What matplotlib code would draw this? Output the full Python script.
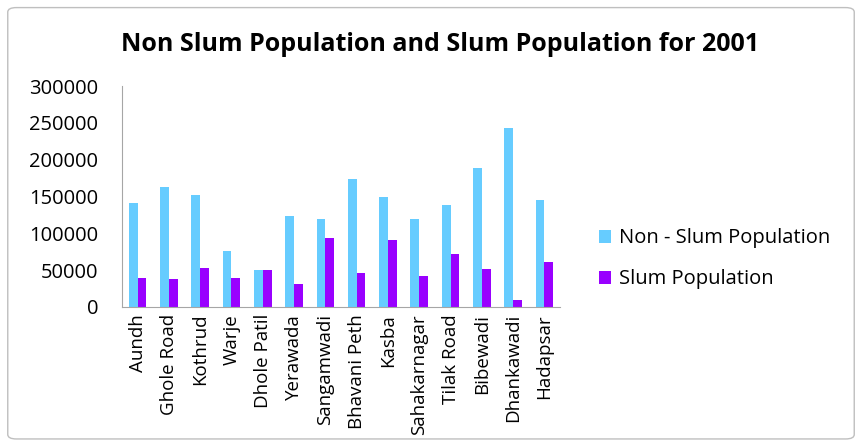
from matplotlib import pyplot as plt
from matplotlib.patches import FancyBboxPatch
import numpy as np

areas = ['Aundh', 'Ghole Road', 'Kothrud', 'Warje', 'Dhole Patil', 'Yerawada',
         'Sangamwadi', 'Bhavani Peth', 'Kasba', 'Sahakarnagar', 'Tilak Road',
         'Bibewadi', 'Dhankawadi', 'Hadapsar']
non_slum = [141000, 163500, 152000, 76500, 50000, 123000, 119500, 173500,
            149500, 120000, 138000, 188500, 243000, 145000]
slum = [40000, 38500, 52500, 40000, 50000, 31500, 93000, 46000, 90500,
        41500, 72500, 51000, 9000, 61000]

plt.rcParams['font.family'] = ['Open Sans', 'DejaVu Sans']

fig = plt.figure(figsize=(8.62, 4.47), dpi=100)
ax = fig.add_axes([0.1415, 0.3132, 0.5082, 0.4944])

x = np.arange(len(areas))
w = 0.28
ax.bar(x - w / 2, non_slum, w, color='#66CCFF', label='Non - Slum Population')
ax.bar(x + w / 2, slum, w, color='#9900FF', label='Slum Population')

ax.set_xlim(-0.5, len(areas) - 0.5)
ax.set_ylim(0, 300000)
ax.set_yticks(np.arange(0, 300001, 50000))
ax.set_xticks(x)
ax.set_xticklabels(areas, rotation=90, fontsize=13.5)
ax.tick_params(axis='y', labelsize=14.5, length=0, pad=17)
ax.tick_params(axis='x', length=0, pad=5)
for s in ['top', 'right']:
    ax.spines[s].set_visible(False)
for s in ['left', 'bottom']:
    ax.spines[s].set_color('#A6A6A6')

fig.text(0.511, 0.9, 'Non Slum Population and Slum Population for 2001',
         ha='center', va='center', fontsize=18, weight='bold')

fig.legend(loc='center left', bbox_to_anchor=(0.674, 0.421), frameon=False,
           fontsize=14.5, handlelength=0.6, handleheight=0.6, handletextpad=0.4,
           labelspacing=1.05)

border = FancyBboxPatch((0.009, 0.018), 0.982, 0.965, transform=fig.transFigure,
                        boxstyle='round,pad=0,rounding_size=0.01',
                        fill=False, edgecolor='#BFBFBF', lw=1)
fig.patches.append(border)

plt.savefig('out.png', dpi=100)
